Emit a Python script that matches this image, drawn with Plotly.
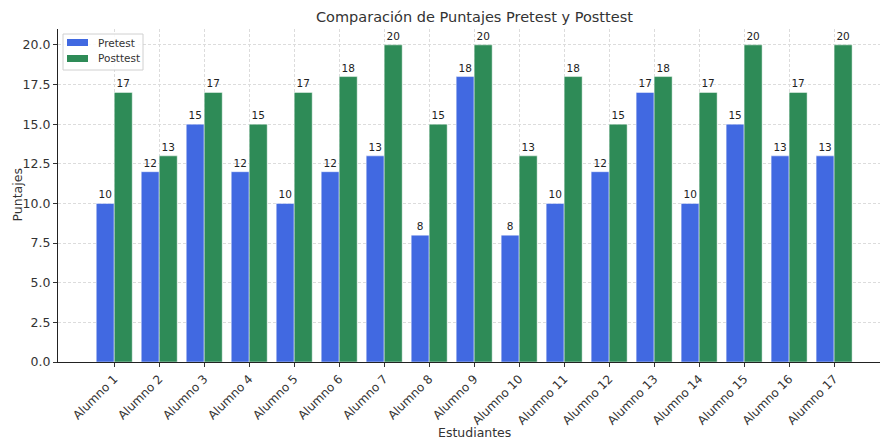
import plotly.graph_objects as go

# Puntajes por alumno
alumnos = [f"Alumno {i}" for i in range(1, 18)]
pretest = [10, 12, 15, 12, 10, 12, 13, 8, 18, 8, 10, 12, 17, 10, 15, 13, 13]
posttest = [17, 13, 17, 15, 17, 18, 20, 15, 20, 13, 18, 15, 18, 17, 20, 17, 20]
series_names = ["Pretest", "Posttest"]
series_colors = ["#4169E1", "#2E8B57"]

y_ticks = [0, 2.5, 5, 7.5, 10, 12.5, 15, 17.5, 20]
y_tick_text = [f"{v:.1f}" for v in y_ticks]

FONT = "DejaVu Sans"
TXT = "#333333"

# plot area in pixels (used to place the compact legend box)
W, H = 880, 439
L, R, T, B = 58, 0, 29, 77
PW, PH = W - L - R, H - T - B


def px_x(p):
    return (p - L) / PW


def px_y(p):
    return (H - B - p) / PH


fig = go.Figure()
for name, vals, col in zip(series_names, [pretest, posttest], series_colors):
    fig.add_trace(go.Bar(
        x=alumnos, y=vals, name=name, showlegend=False,
        marker=dict(color=col, line=dict(color="rgba(255,255,255,0.6)", width=0.8)),
        text=[str(v) for v in vals], textposition="outside",
        textfont=dict(family=FONT, size=10.5, color="#222222"),
        cliponaxis=False,
    ))

# compact legend: frame, colour patches and labels
shapes = [dict(type="rect", xref="paper", yref="paper",
               x0=px_x(63), x1=px_x(143), y0=px_y(70), y1=px_y(34),
               fillcolor="rgba(255,255,255,0.85)", line=dict(color="#d0d0d0", width=1),
               layer="above")]
annotations = []
for i, (name, col) in enumerate(zip(series_names, series_colors)):
    cy = 42.5 + i * 16
    shapes.append(dict(type="rect", xref="paper", yref="paper",
                       x0=px_x(67), x1=px_x(88), y0=px_y(cy + 3.5), y1=px_y(cy - 3.5),
                       fillcolor=col, line=dict(width=0), layer="above"))
    annotations.append(dict(text=name, xref="paper", yref="paper",
                            x=px_x(96), y=px_y(cy), xanchor="left", yanchor="middle",
                            showarrow=False,
                            font=dict(family=FONT, size=10.5, color=TXT)))

annotations += [
    dict(text="Comparación de Puntajes Pretest y Posttest",
         xref="paper", yref="paper", x=px_x(474), y=1, yshift=12,
         xanchor="center", yanchor="middle", showarrow=False,
         font=dict(family=FONT, size=14.5, color=TXT)),
    dict(text="Estudiantes", xref="paper", yref="paper",
         x=px_x(474), y=0, yshift=-70,
         xanchor="center", yanchor="middle", showarrow=False,
         font=dict(family=FONT, size=12.5, color=TXT)),
    dict(text="Puntajes", xref="paper", yref="paper",
         x=0, xshift=-41, y=0.5, textangle=-90,
         xanchor="center", yanchor="middle", showarrow=False,
         font=dict(family=FONT, size=12.5, color=TXT)),
]

fig.update_layout(
    width=W, height=H,
    margin=dict(l=L, r=R, t=T, b=B),
    paper_bgcolor="white", plot_bgcolor="white",
    font=dict(family=FONT, size=12, color=TXT),
    barmode="group", bargap=0.2, bargroupgap=0,
    showlegend=False,
    shapes=shapes,
    annotations=annotations,
)

fig.update_xaxes(
    range=[-1.25, 17.02],
    tickangle=-45, ticks="outside", ticklen=4, tickcolor="#333333", tickwidth=1,
    tickfont=dict(family=FONT, size=12, color=TXT),
    showline=True, linecolor="#222222", linewidth=1.2,
    showgrid=True, gridcolor="#dcdcdc", griddash="3px,2px", gridwidth=0.8,
    zeroline=False,
)
fig.update_yaxes(
    range=[0, 21],
    tickvals=y_ticks, ticktext=y_tick_text,
    ticks="outside", ticklen=4, tickcolor="#333333", tickwidth=1,
    tickfont=dict(family=FONT, size=12.5, color=TXT),
    showline=True, linecolor="#222222", linewidth=1.2,
    showgrid=True, gridcolor="#dcdcdc", griddash="3px,2px", gridwidth=0.8,
    zeroline=False,
)

fig.write_html("out.html")
